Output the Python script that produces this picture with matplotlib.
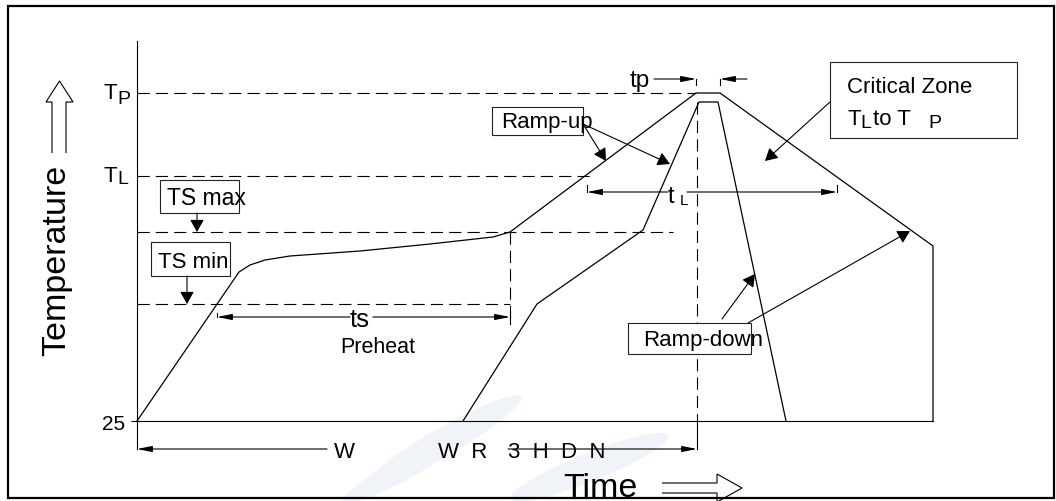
import matplotlib
matplotlib.use('Agg')
import matplotlib.pyplot as plt
from matplotlib.patches import Rectangle, Polygon, Ellipse
from matplotlib.transforms import Affine2D

plt.rcParams['font.family'] = ['Liberation Sans', 'DejaVu Sans']

# schematic reflow profile (arbitrary time / temperature units)
outer_time = [0, 51, 56.5, 64, 76.5, 111.5, 146.5, 178, 186.5, 279.5, 291.5, 398, 398]
outer_temp = [25, 99.5, 103, 105.5, 107.5, 110, 113.5, 117, 119.5, 189, 189, 112.5, 25]
inner_time = [163, 200, 253, 281, 290.5, 324.5]
inner_temp = [25, 83.5, 120.5, 184.5, 184.5, 25]

# temperature levels
T_ROOM = 25
T_P = 189
T_L = 147.5
TS_MAX = 119.5
TS_MIN = 83.5

# time marks
ts_start, ts_end = 40, 186.5
tl_start, tl_end = 225, 350
tp_start, tp_end = 279.5, 291.5
peak_time = 280

W, H = 1056, 502
fig = plt.figure(figsize=(W / 100, H / 100), dpi=100)
fig.patch.set_facecolor('white')
ax = fig.add_axes([137 / W, 80 / H, 796 / W, 380 / H])
ax.patch.set_visible(False)

# pixel transform (top-left origin) for the decorations around the plot
px = Affine2D().scale(1 / W, -1 / H).translate(0, 1) + fig.transFigure

for s in ['top', 'right']:
    ax.spines[s].set_visible(False)
for s in ['left', 'bottom']:
    ax.spines[s].set_linewidth(0.8)
ax.set_xticks([])
ax.set_yticks([T_ROOM])
ax.set_yticklabels(['25'])
ax.tick_params(axis='y', length=4.3, width=0.8, pad=4, labelsize=15)

# profiles
ax.plot(outer_time, outer_temp, color='k', lw=0.9, zorder=3, clip_on=False)
ax.plot(inner_time, inner_temp, color='k', lw=0.9, zorder=3, clip_on=False)

# dashed guide lines
dash = dict(color='k', lw=0.8, dashes=(11, 5.5), zorder=1, clip_on=False)
ax.plot([0, tp_start], [T_P, T_P], **dash)
ax.plot([0, 226.5], [T_L, T_L], **dash)
ax.plot([0, 268], [TS_MAX, TS_MAX], **dash)
ax.plot([0, ts_end], [TS_MIN, TS_MIN], **dash)
ax.plot([ts_end, ts_end], [TS_MAX, 74.5], **dash)
ax.plot([peak_time, peak_time], [184.5, T_ROOM], **dash)

solid = dict(color='k', lw=0.8, zorder=2, clip_on=False)
ax.plot([0, 0], [T_ROOM, 11], **solid)
ax.plot([peak_time, peak_time], [T_ROOM, 11], **solid)


def arrow(x0, y0, x1, y1, style='-|>,head_length=0.5,head_width=0.28'):
    ax.annotate('', xy=(x1, y1), xytext=(x0, y0), annotation_clip=False,
                arrowprops=dict(arrowstyle=style, mutation_scale=15, lw=0.8,
                                color='k', shrinkA=0, shrinkB=0), zorder=4)


thin = '-|>,head_length=0.6,head_width=0.12'

# ts
arrow(106.5, 77, ts_start, 77, thin)
arrow(118, 77, ts_end, 77, thin)
ax.plot([ts_start, ts_start], [77, 79], **solid)
ax.plot([ts_end, ts_end], [79.5, 73.5], **solid)
ax.text(111.5, 72.5, 'ts', fontsize=18.5, ha='center', va='baseline')
ax.text(120.5, 59.5, 'Preheat', fontsize=15.5, ha='center', va='baseline')

# tL
arrow(265.5, 139.5, tl_start, 139.5, thin)
arrow(275, 139.5, tl_end, 139.5, thin)
ax.plot([tl_start, tl_start], [139.5, 143], **solid)
ax.plot([tl_end, tl_end], [139.5, 143], **solid)
ax.text(265.5, 134.5, 't', fontsize=17, ha='left', va='baseline')
ax.text(271.5, 133.5, 'L', fontsize=11, ha='left', va='baseline')

# tp
arrow(258.5, 196, tp_start, 196, thin)
arrow(305, 196, tp_end, 196, thin)
ax.plot([tp_start, tp_start], [196, 193], **solid)
ax.plot([tp_end, tp_end], [196, 193], **solid)
ax.text(256.5, 192.5, 'tp', fontsize=17.5, ha='right', va='baseline')

# time 25 to peak (symbol-font text kept as rendered)
arrow(95, 11, 0, 11, thin)
arrow(185.5, 11, peak_time, 11, thin)
ax.text(103.5, 7, 'W', fontsize=16, ha='center', va='baseline')
ax.text(150.5, 7, 'W  R', fontsize=16, ha='left', va='baseline')
ax.text(185.5, 7, '3  H  D  N', fontsize=16, ha='left', va='baseline')

# level labels
for lvl, sub, dy in [(T_P, 'P', 2.5), (T_L, 'L', 1.0)]:
    ax.text(-10, lvl - 2.5, 'T', fontsize=16, ha='right', va='baseline')
    ax.text(-10, lvl - 2.5 - dy, sub, fontsize=14, ha='left', va='baseline')

# callout boxes
boxes = [(11.5, 129, 39.5, 16.5), (7, 97.5, 39.5, 17), (177.5, 168, 45.5, 14),
         (346.5, 166.5, 93.5, 38), (245.5, 58.5, 61.5, 15.5)]
for bx, by, bw, bh in boxes:
    ax.add_patch(Rectangle((bx, by), bw, bh, facecolor='white', edgecolor='#222222',
                           lw=0.8, zorder=2, clip_on=False))

ax.text(15, 133.5, 'TS max', fontsize=16.5, va='baseline', zorder=5)
ax.text(10.5, 102, 'TS min', fontsize=16, va='baseline', zorder=5)
ax.text(182, 172, 'Ramp-up', fontsize=16, va='baseline', zorder=5)
ax.text(253, 63, 'Ramp-down', fontsize=16, va='baseline', zorder=5)
ax.text(355, 189.5, 'Critical Zone', fontsize=16, va='baseline', zorder=5)
ax.text(355, 173.5, 'T', fontsize=16, va='baseline', zorder=5)
ax.text(361.5, 172, 'L', fontsize=14, va='baseline', zorder=5)
ax.text(368, 173.5, 'to T', fontsize=16, va='baseline', zorder=5)
ax.text(395.5, 172, 'P', fontsize=14, va='baseline', zorder=5)

arrow(30, 129, 30, TS_MAX)
arrow(25, 97.5, 25, TS_MIN)
arrow(223, 173.5, 234.5, 155)
arrow(223, 173.5, 266.5, 153.5)
arrow(346.5, 184.5, 314, 155)
arrow(292.5, 76, 309, 98.5)
arrow(305.5, 74, 386.5, 120)

ax.set_xlim(0, 398)
ax.set_ylim(25, 215)

# faint watermark streaks
for cx, cy, w, h, ang in [(443, 443, 180, 28, -30), (590, 468, 170, 28, -22), (400, 472, 130, 22, -28)]:
    fig.add_artist(Ellipse((cx, cy), w, h, angle=ang, transform=px,
                           facecolor='#f0f3f8', edgecolor='none', zorder=-1))

# hollow axis arrows
fig.add_artist(Polygon([(52, 154), (52, 103), (46, 103), (59.5, 82), (73, 103), (66, 103), (66, 154)],
                       closed=False, fill=False, lw=0.8, edgecolor='k', transform=px))
fig.add_artist(Polygon([(662, 484), (717, 484), (717, 475), (742, 489), (717, 503), (717, 494), (662, 494)],
                       closed=False, fill=False, lw=0.8, edgecolor='k', transform=px))

fig.text(57, 260, 'Temperature', transform=px, rotation=90, ha='center', va='center', fontsize=24.5)
fig.text(563, 497, 'Time', transform=px, ha='left', va='baseline', fontsize=24.5)

# outer frame
fig.add_artist(Rectangle((8, 7), 1046, 492, transform=px, fill=False, lw=1.6, edgecolor='k'))

fig.savefig('out.png', dpi=100)
